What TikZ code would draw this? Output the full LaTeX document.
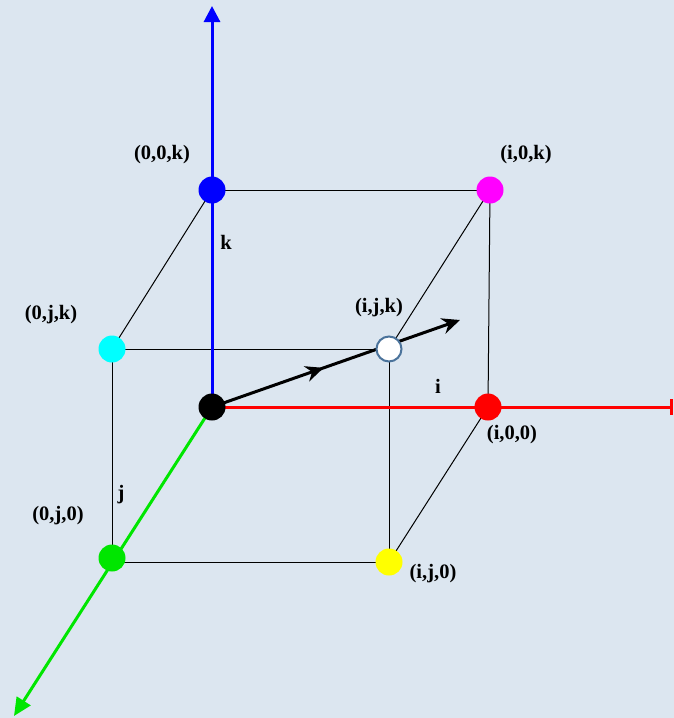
\documentclass[tikz,border=0pt]{standalone}
\usepackage{fontspec}
\setmainfont{Liberation Serif}
\usetikzlibrary{arrows.meta,decorations.markings}
\definecolor{bg}{RGB}{220,230,240}
\definecolor{ringc}{RGB}{75,115,155}
\definecolor{pblue}{RGB}{0,0,255}
\definecolor{pred}{RGB}{255,0,0}
\definecolor{pgreen}{RGB}{0,230,0}
\definecolor{pmag}{RGB}{255,0,255}
\definecolor{pcyan}{RGB}{0,255,255}
\definecolor{pyel}{RGB}{255,255,0}
\definecolor{pdot}{RGB}{0,230,0}
\begin{document}
\begin{tikzpicture}[x=1pt,y=-1pt,
  dot/.style={circle,inner sep=0pt,minimum size=27pt},
  edge/.style={draw=black,line width=1pt},
  axis/.style={line width=3pt},
  lab/.style={font=\fontsize{20.5}{22}\selectfont\bfseries,inner sep=0pt}]
\fill[bg] (0,0) rectangle (674,718);
\useasboundingbox (0,0) rectangle (674,718);
% points
\coordinate (O) at (212,407);
\coordinate (B) at (212,190);
\coordinate (M) at (490,190);
\coordinate (C) at (112,349);
\coordinate (W) at (389,349);
\coordinate (R) at (488,407);
\coordinate (G) at (112,558);
\coordinate (Y) at (389,562);
\coordinate (ztip) at (212,6);
\coordinate (xtip) at (673,407);
\coordinate (ytip) at (14,716);
\coordinate (vtip) at (460,320);
% cube edges
\draw[edge] (B) -- (M);
\draw[edge] (B) -- (C);
\draw[edge] (M) -- (W);
\draw[edge] (C) -- (W);
\draw[edge] (M) -- (R);
\draw[edge] (C) -- (112,562) -- (Y);
\draw[edge] (W) -- (Y);
\draw[edge] (Y) -- (R);
% axes
\draw[axis,pred,-{Bar[width=16pt,line width=3pt]}] (O) -- (xtip);
\draw[axis,pblue,-{Triangle[width=16pt,length=16pt]}] (O) -- (ztip);
\draw[axis,pgreen,-{Triangle[width=16pt,length=18pt]}] (O) -- (ytip);
% vector
\draw[line width=3pt,-{Stealth[width=16pt,length=18pt]},
  postaction={decorate},
  decoration={markings,mark=at position 0.45 with {\arrow{Stealth[width=16pt,length=18pt]}}}] (O) -- (vtip);
% dots
\node[dot,fill=black] (o) at (O) {};
\node[dot,fill=pblue] (b) at (B) {};
\node[dot,fill=pmag] (m) at (M) {};
\node[dot,fill=pcyan] (c) at (C) {};
\node[dot,fill=white,draw=ringc,line width=2pt,minimum size=25pt] (w) at (W) {};
\node[dot,fill=pred] (r) at (R) {};
\node[dot,fill=pdot] (g) at (G) {};
\node[dot,fill=pyel] (y) at (Y) {};
% labels
\node[lab] (lb) at (162,155) {(0,0,k)};
\node[lab] (lm) at (526,155) {(i,0,k)};
\node[lab] (lc) at (51,315) {(0,j,k)};
\node[lab] (lw) at (379,308) {(i,j,k)};
\node[lab] (lk) at (226,242) {k};
\node[lab] (li) at (438,386) {i};
\node[lab] (lr) at (512,435) {(i,0,0)};
\node[lab] (lj) at (121,495) {j};
\node[lab] (lg) at (58,516) {(0,j,0)};
\node[lab] (ly) at (433,574) {(i,j,0)};
\end{tikzpicture}
\end{document}
